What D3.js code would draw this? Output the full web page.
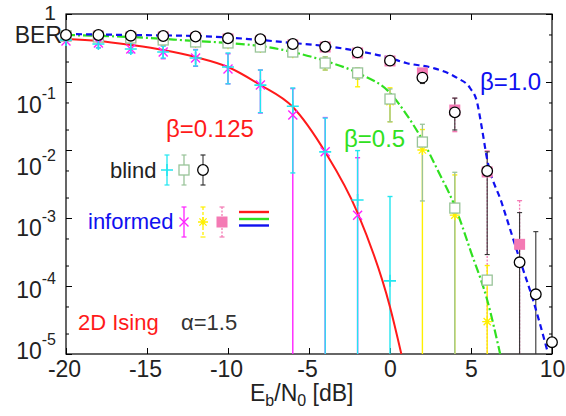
<!DOCTYPE html>
<html><head><meta charset="utf-8">
<script src="https://cdn.jsdelivr.net/npm/d3@7"></script>
<style>body{margin:0;background:#fff}svg{display:block}text{font-family:"Liberation Sans",Arial,Helvetica,sans-serif}</style>
</head><body><svg id="c" width="566" height="416"></svg>
<script>
// ---------- data ----------
const xTickValues = [-20,-15,-10,-5,0,5,10];
const xTickLabels = ["-20","-15","-10","-5","0","5","10"];
const yMajorValues = [1e-1,1e-2,1e-3,1e-4,1e-5];
const yTickExponents = ["-1","-2","-3","-4","-5"];
const yMinorValues = [5e-1,2e-1,5e-2,2e-2,5e-3,2e-3,5e-4,2e-4,5e-5,2e-5];

// theory curves
const curve0125X = [-20,-18,-16,-14,-12,-10,-8,-6,-4,-2,0,0.7];
const curve0125Y = [0.429,0.401,0.350,0.296,0.233,0.166,0.0903,0.0429,0.00935,0.00119,4.91e-5,1e-5];
const curve05X = [-20,-16,-12,-10,-8,-6,-4,-2,0,1,2,3,4,5,6,6.8];
const curve05Y = [0.491,0.459,0.401,0.375,0.338,0.276,0.204,0.136,0.0689,0.0338,0.0140,4.75e-3,1.5e-3,3.16e-4,6.23e-5,1e-5];
const curve10X = [-20,-16,-12,-8,-6,-4,-2,0,1,2.65,4.14,4.94,5.37,5.66,5.97,6.9,8.02,8.83,9.75];
const curve10Y = [0.508,0.491,0.475,0.415,0.375,0.338,0.286,0.225,0.190,0.161,0.115,0.0816,0.0508,0.0218,7.89e-3,1.66e-3,2.41e-4,6.23e-5,1.03e-5];

// blind beta=0.125 (cyan +)
const blind0125X  = [-20,-18,-16,-14,-12,-10,-8,-6,-4,-2,0];
const blind0125Y  = [0.415,0.362,0.306,0.276,0.225,0.166,0.090,0.044,0.0094,0.00184,0.000119];
const blind0125Hi = [null,0.405,0.362,0.338,0.296,0.267,0.150,0.0817,0.0295,0.0098,0.00207];
const blind0125Lo = [null,0.316,0.267,0.225,0.172,0.094,0.0354,0.0046,1e-6,1e-6,1e-6];
// informed beta=0.125 (magenta x)
const inf0125X  = [-20,-18,-16,-14,-12,-10,-8,-6,-4,-2];
const inf0125Y  = [0.40,0.375,0.306,0.276,0.225,0.155,0.090,0.0327,0.0094,0.0011];
const inf0125Hi = [null,0.405,0.36,0.34,0.30,0.26,0.15,0.08,0.03,0.0077];
const inf0125Lo = [null,0.32,0.27,0.22,0.17,0.094,0.035,1e-6,1e-6,1e-6];
// blind beta=0.5 (grey-green square)
const blind05X  = [-20,-18,-16,-14,-12,-10,-8,-6,-4,-2,0,2,4,6];
const blind05Y  = [0.475,0.459,0.444,0.415,0.388,0.375,0.327,0.276,0.190,0.136,0.0562,0.0131,0.0014,0.000122];
const blind05Hi = [null,null,null,null,null,null,null,null,0.235,0.16,0.079,0.0239,0.0047,null];
const blind05Lo = [null,null,null,null,null,null,null,null,0.15,0.11,0.026,0.00178,1e-6,null];
// informed beta=0.5 (yellow *)
const inf05X  = [-20,-18,-16,-14,-12,-10,-8,-6,-4,-2,0,2,4,6];
const inf05Y  = [0.46,0.445,0.43,0.40,0.375,0.36,0.315,0.265,0.183,0.13,0.0514,0.010,0.0011,2.99e-5];
const inf05Hi = [null,null,null,null,null,null,null,null,0.235,0.16,0.082,0.02,0.0043,0.0002];
const inf05Lo = [null,null,null,null,null,null,null,null,0.15,0.085,0.026,1e-6,1e-6,1e-6];
// informed beta=1.0 (pink filled square)
const inf10X  = [-20,-18,-16,-14,-12,-10,-8,-6,-4,-2,0,2,4,6,8];
const inf10Y  = [0.475,0.475,0.459,0.459,0.444,0.429,0.401,0.350,0.327,0.267,0.204,0.136,0.0387,4.75e-3,4.1e-4];
const inf10Hi = [null,null,null,null,null,null,null,null,null,null,null,0.15,0.0577,0.0097,0.0018];
const inf10Lo = [null,null,null,null,null,null,null,null,null,null,null,0.1,0.0186,1e-6,1e-6];
// blind beta=1.0 (black circle)
const blind10X  = [-20,-18,-16,-14,-12,-10,-8,-6,-4,-2,0,2,4,6,8,9,10];
const blind10Y  = [0.491,0.491,0.480,0.475,0.467,0.439,0.425,0.362,0.330,0.273,0.206,0.116,0.0358,4.91e-3,2.23e-4,7.55e-5,1.49e-5];
const blind10Hi = [null,null,null,null,null,null,null,null,null,null,null,0.14,0.058,0.0094,0.0012,0.00063,null];
const blind10Lo = [null,null,null,null,null,null,null,null,null,null,null,0.095,0.0197,0.00029,1e-6,1e-6,null];

// ---------- colours ----------
const C = {cyan:"#22e6f0", gg:"#99c499", mag:"#ff22ff", yel:"#fff000", pink:"#f47ab4",
           red:"#ff1a1a", green:"#30e020", blue:"#1010f0", black:"#000"};

// ---------- scales ----------
const svg = d3.select("#c");
const x = d3.scaleLinear().domain([-20,10]).range([66,552]);
const y = d3.scaleLog().domain([1e-5,1]).range([354,14]);
const yLab = d3.scaleLog().domain([1e-5,1e-1]).range([359,113]);
const yc = v => y(Math.max(v,1e-5));

// ---------- axes ----------
const gx = svg.append("g").attr("transform","translate(0,354)")
  .call(d3.axisBottom(x).tickValues(xTickValues).tickSize(-6).tickPadding(7)
        .tickFormat((d,i)=>xTickLabels[i]));
const gxt = svg.append("g").attr("transform","translate(0,14)")
  .call(d3.axisTop(x).tickValues(xTickValues).tickSize(-6).tickFormat(""));
const gyl = svg.append("g").attr("transform","translate(66,0)")
  .call(d3.axisLeft(y).tickValues(yMajorValues.concat([1])).tickSize(-6).tickFormat(""));
const gylm = svg.append("g").attr("transform","translate(66,0)")
  .call(d3.axisLeft(y).tickValues(yMinorValues).tickSize(-3).tickFormat(""));
const gyr = svg.append("g").attr("transform","translate(552,0)")
  .call(d3.axisRight(y).tickValues(yMajorValues.concat([1])).tickSize(-6).tickFormat(""));
const gyrm = svg.append("g").attr("transform","translate(552,0)")
  .call(d3.axisRight(y).tickValues(yMinorValues).tickSize(-3).tickFormat(""));
[gx,gxt,gyl,gylm,gyr,gyrm].forEach(g=>{
  g.select(".domain").remove();
  g.selectAll(".tick line").attr("stroke","#000").attr("stroke-width",1);
});
gx.selectAll(".tick text").attr("font-size",23).attr("fill","#222")
  .attr("font-family","'Liberation Sans',Arial,sans-serif")
  .attr("dx",(d)=>d<0?-2:0);
svg.append("rect").attr("x",66).attr("y",14).attr("width",486).attr("height",340)
  .attr("fill","none").attr("stroke","#000").attr("stroke-width",1.2);

// y tick labels
yMajorValues.forEach((v,i)=>{
  const t = svg.append("text").attr("x",56).attr("y",yLab(v)).attr("text-anchor","end")
    .attr("font-size",23).attr("fill","#222");
  t.append("tspan").text("10");
  t.append("tspan").attr("font-size",16).attr("dy",-14).text(yTickExponents[i]);
});
svg.append("text").attr("x",56).attr("y",20).attr("text-anchor","end")
  .attr("font-size",21).attr("fill","#222").text("1");
svg.append("text").attr("x",62).attr("y",43).attr("text-anchor","end")
  .attr("font-size",23).attr("fill","#222").text("BER");

// x label
const xl = svg.append("text").attr("x",250).attr("y",401).attr("font-size",23).attr("fill","#222");
xl.append("tspan").text("E");
xl.append("tspan").attr("font-size",16).attr("dy",5).text("b");
xl.append("tspan").attr("dy",-5).text("/N");
xl.append("tspan").attr("font-size",16).attr("dy",5).text("0");
xl.append("tspan").attr("dy",-5).text(" [dB]");

// ---------- error bars ----------
function bars(X,Hi,Lo,color,w,dash){
  const g = svg.append("g").attr("stroke",color).attr("stroke-width",w).attr("fill","none");
  X.forEach((xv,i)=>{
    if(Hi[i]==null) return;
    const px = x(xv), y1 = yc(Hi[i]), y2 = yc(Lo[i]);
    const l = g.append("line").attr("x1",px).attr("x2",px).attr("y1",y1).attr("y2",y2);
    if(dash) l.attr("stroke-dasharray",dash);
    g.append("line").attr("x1",px-2.5).attr("x2",px+2.5).attr("y1",y1).attr("y2",y1);
    if(Lo[i]>=1e-5) g.append("line").attr("x1",px-2.5).attr("x2",px+2.5).attr("y1",y2).attr("y2",y2);
  });
}
bars(inf10X,inf10Hi,inf10Lo,C.pink,1.3,"2,1.5");
bars(blind10X,blind10Hi,blind10Lo,"#333",1.1,null);
bars(inf05X,inf05Hi,inf05Lo,C.yel,1.4,null);
bars(blind05X,blind05Hi,blind05Lo,C.gg,1.3,null);
bars(inf0125X,inf0125Hi,inf0125Lo,C.mag,1.4,null);
bars(blind0125X,blind0125Hi,blind0125Lo,C.cyan,1.4,null);

// ---------- theory curves ----------
function curve(X,Y,color,dash,w){
  const line = d3.line().x(d=>x(d[0])).y(d=>y(d[1])).curve(d3.curveMonotoneX);
  svg.append("path").attr("d",line(X.map((v,i)=>[v,Y[i]])))
    .attr("fill","none").attr("stroke",color).attr("stroke-width",w)
    .attr("stroke-dasharray",dash||null);
}
curve(curve0125X,curve0125Y,C.red,null,2);
curve(curve05X,curve05Y,C.green,"9,3,2,3",2.2);
curve(curve10X,curve10Y,C.blue,"6,4",2.2);

// ---------- markers ----------
function mPinkSq(g,px,py){ g.append("rect").attr("x",px-5.5).attr("y",py-5.5).attr("width",11).attr("height",11).attr("fill",C.pink); }
function mSq(g,px,py,c){ g.append("rect").attr("x",px-5).attr("y",py-5).attr("width",10).attr("height",10).attr("fill","#fff").attr("stroke",c||C.gg).attr("stroke-width",1.3); }
function mStar(g,px,py){
  const r=5, d=3.6;
  g.append("path").attr("d",`M${px-r},${py}H${px+r}M${px},${py-r}V${py+r}M${px-d},${py-d}L${px+d},${py+d}M${px-d},${py+d}L${px+d},${py-d}`)
    .attr("stroke",C.yel).attr("stroke-width",1.3).attr("fill","none");
}
function mCross(g,px,py){
  const d=4.5;
  g.append("path").attr("d",`M${px-d},${py-d}L${px+d},${py+d}M${px-d},${py+d}L${px+d},${py-d}`)
    .attr("stroke",C.mag).attr("stroke-width",1.4).attr("fill","none");
}
function mPlus(g,px,py){
  const r=6;
  g.append("path").attr("d",`M${px-r},${py}H${px+r}M${px},${py-r}V${py+r}`)
    .attr("stroke",C.cyan).attr("stroke-width",1.6).attr("fill","none");
}
function mCirc(g,px,py){ g.append("circle").attr("cx",px).attr("cy",py).attr("r",5.3).attr("fill","#fff").attr("stroke","#000").attr("stroke-width",1.3); }

const gm = svg.append("g");
inf10X.forEach((v,i)=>mPinkSq(gm,x(v),y(inf10Y[i])));
inf05X.forEach((v,i)=>mStar(gm,x(v),y(inf05Y[i])));
blind05X.forEach((v,i)=>mSq(gm,x(v),y(blind05Y[i])));
inf0125X.forEach((v,i)=>mCross(gm,x(v),y(inf0125Y[i])));
blind0125X.forEach((v,i)=>mPlus(gm,x(v),y(blind0125Y[i])));
blind10X.forEach((v,i)=>mCirc(gm,x(v),y(blind10Y[i])));

// ---------- annotations ----------
function txt(s,px,py,size,color){ return svg.append("text").attr("x",px).attr("y",py).attr("font-size",size).attr("fill",color).text(s); }
txt("β=0.125",166,137,24,C.red);
txt("β=0.5",344,147,24,C.green);
txt("β=1.0",480,90,24,C.blue);
txt("blind",110,178,22,"#222");
txt("informed",88,229,22,C.blue);
txt("2D Ising",78,330,22,C.red);
txt("α=1.5",181,330,22,"#333");

// legend markers
const lg = svg.append("g");
function lbar(px,cy,c,dash,w){
  const l = lg.append("line").attr("x1",px).attr("x2",px).attr("y1",cy-15).attr("y2",cy+15).attr("stroke",c).attr("stroke-width",w||1.3);
  if(dash) l.attr("stroke-dasharray",dash);
  [cy-15,cy+15].forEach(yy=>lg.append("line").attr("x1",px-2.5).attr("x2",px+2.5).attr("y1",yy).attr("y2",yy).attr("stroke",c).attr("stroke-width",1.2));
}
lbar(167,170,C.cyan); mPlus(lg,167,170);
lbar(184,170,C.gg); mSq(lg,184,170);
lbar(203,170,"#333",null,1.1); mCirc(lg,203,170);
lbar(184,222,C.mag); mCross(lg,184,222);
lbar(203,222,C.yel,"3,2"); mStar(lg,203,222);
lbar(222,222,C.pink,"2,1.5"); mPinkSq(lg,222,222);
[[212,C.red],[219,C.green],[225.5,C.blue]].forEach(([yy,c])=>
  lg.append("line").attr("x1",239).attr("x2",269).attr("y1",yy).attr("y2",yy).attr("stroke",c).attr("stroke-width",2.4));
</script></body></html>
